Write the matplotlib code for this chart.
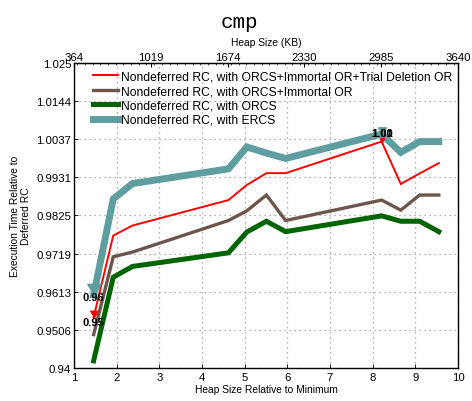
import numpy as np
import matplotlib
matplotlib.use("Agg")
import matplotlib.pyplot as plt
from matplotlib.ticker import FixedLocator, MultipleLocator

plt.rcParams['font.family'] = ['Liberation Sans', 'DejaVu Sans']

# heap size relative to the minimum heap (364 KB)
heap_rel = [1.46, 1.92, 2.37, 4.62, 5.05, 5.51, 5.96, 8.21, 8.66, 9.10, 9.55]
min_heap_kb = 364

trial_deletion = [0.9541, 0.9769, 0.9797, 0.9868, 0.9910, 0.9943, 0.9943, 1.0031, 0.9913, 0.9942, 0.9971]
immortal = [0.9493, 0.9710, 0.9723, 0.9811, 0.9838, 0.9882, 0.9811, 0.9868, 0.9840, 0.9882, 0.9882]
orcs = [0.9420, 0.9653, 0.9683, 0.9721, 0.9779, 0.9809, 0.9780, 0.9824, 0.9809, 0.9809, 0.9780]
ercs = [0.9603, 0.9871, 0.9914, 0.9955, 1.0016, 0.9999, 0.9984, 1.0052, 1.0001, 1.0031, 1.0031]

labels = [
    "Nondeferred RC, with ORCS+Immortal OR+Trial Deletion OR",
    "Nondeferred RC, with ORCS+Immortal OR",
    "Nondeferred RC, with ORCS",
    "Nondeferred RC, with ERCS",
]
colors = ["#ff0000", "#6e554b", "#006400", "#5f9ea0"]
widths = [1.4, 2.4, 3.6, 5.0]

y_ticks = [0.94, 0.9506, 0.9613, 0.9719, 0.9825, 0.9931, 1.0037, 1.0144, 1.025]
y_tick_labels = ["0.94", "0.9506", "0.9613", "0.9719", "0.9825", "0.9931", "1.0037", "1.0144", "1.025"]
kb_ticks = [364, 1019, 1674, 2330, 2985, 3640]

fig = plt.figure(figsize=(4.72, 4.02), dpi=100)
ax = fig.add_axes([74 / 472, 1 - 369 / 402, 384 / 472, 305 / 402])

series = [trial_deletion, immortal, orcs, ercs]
lines = []
for vals, c, w, lab in zip(series, colors, widths, labels):
    ln, = ax.plot(heap_rel, vals, color=c, lw=w, label=lab, solid_joinstyle='miter', zorder=3)
    lines.append(ln)

# arrowhead with its tip on the data point
head = [(0, 0), (-0.6, 1.0), (0.6, 1.0), (0, 0)]


def mark_extreme(vals, color, size, offset):
    i = int(np.argmin(vals))
    ax.plot([heap_rel[i]], [vals[i]], marker=head, ms=size, color=color,
            mec=color, ls='none', zorder=4)
    ax.annotate(f"{vals[i]:.2f}", (heap_rel[i], vals[i]), xytext=(0, offset[0]),
                textcoords='offset points', ha='center', va='center',
                fontsize=8, fontweight='bold', zorder=5)
    j = int(np.argmax(vals))
    ax.plot([heap_rel[j]], [vals[j]], marker=head, ms=size * 0.6, color=color,
            mec=color, ls='none', zorder=4)
    ax.annotate(f"{vals[j]:.2f}", (heap_rel[j], vals[j]), xytext=(0, offset[1]),
                textcoords='offset points', ha='center', va='center',
                fontsize=8, fontweight='bold', zorder=5)


mark_extreme(trial_deletion, colors[0], 9, (-3.5, 6.5))
mark_extreme(ercs, colors[3], 16, (-1.0, 1.0))

ax.set_xlim(1, 10)
ax.set_ylim(0.94, 1.025)
ax.set_xticks(range(1, 11))
ax.yaxis.set_major_locator(FixedLocator(y_ticks))
ax.set_yticklabels(y_tick_labels)
ax.grid(True, which='major', color='#999999', ls=(0, (1, 3)), lw=0.9)
ax.tick_params(axis='both', which='major', direction='in', length=3, labelsize=8.2, width=0.6)
ax.tick_params(axis='x', pad=3)
ax.tick_params(axis='y', pad=2)
for s in ax.spines.values():
    s.set_linewidth(1.0)

ax.set_xlabel("Heap Size Relative to Minimum", fontsize=7.4, labelpad=1)
ax.set_ylabel("Execution Time Relative to\nDeferred RC", fontsize=7.4, labelpad=3.5)

top = ax.secondary_xaxis('top', functions=(lambda x: x * min_heap_kb, lambda k: k / min_heap_kb))
top.set_xticks(kb_ticks)
top.xaxis.set_minor_locator(MultipleLocator(65.5))
top.tick_params(axis='x', which='major', direction='in', length=3, labelsize=8.2, pad=1)
top.tick_params(axis='x', which='minor', direction='in', length=1.5, width=0.5)
top.set_xlabel("Heap Size (KB)", fontsize=7.4, labelpad=5)

ax.legend(handles=lines, loc='upper left', bbox_to_anchor=(0.049, 0.975), frameon=False,
          fontsize=8.7, handlelength=2.07, handletextpad=0.25, labelspacing=0.2,
          borderpad=0, borderaxespad=0)

fig.text(0.508, 0.945, "cmp", ha='center', va='center', fontsize=15,
         family=['Liberation Mono', 'DejaVu Sans Mono'])

fig.savefig("out.png", dpi=100)
